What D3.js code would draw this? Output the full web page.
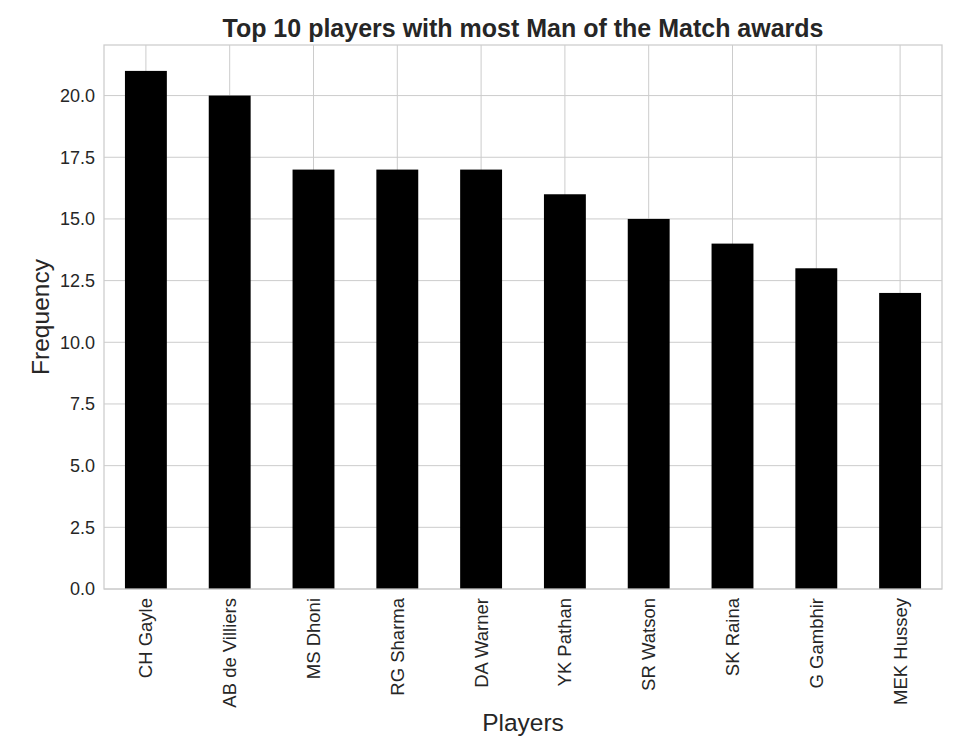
<!DOCTYPE html>
<html>
<head>
<meta charset="utf-8">
<script src="https://cdn.jsdelivr.net/npm/d3@7"></script>
<style>
  body { margin: 0; background: #fff; }
  text { font-family: "Liberation Sans", Arial, sans-serif; fill: #262626; }
</style>
</head>
<body>
<div id="chart"></div>
<script>
const players = ["CH Gayle", "AB de Villiers", "MS Dhoni", "RG Sharma", "DA Warner",
                 "YK Pathan", "SR Watson", "SK Raina", "G Gambhir", "MEK Hussey"];
const awards = [21, 20, 17, 17, 17, 16, 15, 14, 13, 12];
const yTicks = [0, 2.5, 5, 7.5, 10, 12.5, 15, 17.5, 20];

// plot box
var margin = {top: 45, right: 15, bottom: 163, left: 104},
    width = 957 - margin.left - margin.right,
    height = 752 - margin.top - margin.bottom;

var svg = d3.select("#chart").append("svg")
    .attr("width", 957)
    .attr("height", 752);

var g = svg.append("g")
    .attr("transform", "translate(" + margin.left + "," + margin.top + ")");

var x = d3.scaleBand().domain(players).range([0, width]).paddingInner(0.5).paddingOuter(0.25);
var y = d3.scaleLinear().domain([0, d3.max(awards) * 1.05]).range([height, 0]);

// grid
g.selectAll(".hgrid").data(yTicks).enter().append("line")
    .attr("x1", 0).attr("x2", width)
    .attr("y1", d => y(d)).attr("y2", d => y(d))
    .attr("stroke", "#cccccc").attr("stroke-width", 1);

g.selectAll(".vgrid").data(players).enter().append("line")
    .attr("x1", d => x(d) + x.bandwidth() / 2).attr("x2", d => x(d) + x.bandwidth() / 2)
    .attr("y1", 0).attr("y2", height)
    .attr("stroke", "#cccccc").attr("stroke-width", 1);

// bars
g.selectAll(".bar").data(awards).enter().append("rect")
    .attr("x", (d, i) => x(players[i]))
    .attr("width", x.bandwidth())
    .attr("y", d => y(d))
    .attr("height", d => height - y(d))
    .attr("fill", "#000");

// frame
g.append("rect")
    .attr("width", width).attr("height", height)
    .attr("fill", "none").attr("stroke", "#cccccc").attr("stroke-width", 1.25);

// y axis
var yAxis = g.append("g")
    .call(d3.axisLeft(y).tickValues(yTicks).tickFormat(d3.format(".1f")).tickSize(0).tickPadding(9));
yAxis.select(".domain").remove();
yAxis.selectAll("text").attr("font-size", "18px").style("fill", "#262626")
    .style("font-family", "Liberation Sans, Arial, sans-serif");

// x axis
var xAxis = g.append("g")
    .attr("transform", "translate(0," + height + ")")
    .call(d3.axisBottom(x).tickSize(0).tickPadding(0));
xAxis.select(".domain").remove();
xAxis.selectAll("text")
    .attr("font-size", "18.5px").style("fill", "#262626")
    .style("font-family", "Liberation Sans, Arial, sans-serif")
    .attr("text-anchor", "end")
    .attr("dy", "0.35em")
    .attr("transform", "translate(0,9) rotate(-90)")
    .attr("x", 0).attr("y", 0);

// title + labels
svg.append("text")
    .attr("x", margin.left + width / 2).attr("y", 37)
    .attr("text-anchor", "middle")
    .attr("font-size", "25px").attr("font-weight", "bold")
    .text("Top 10 players with most Man of the Match awards");

svg.append("text")
    .attr("x", margin.left + width / 2).attr("y", 731)
    .attr("text-anchor", "middle")
    .attr("font-size", "24.5px")
    .text("Players");

svg.append("text")
    .attr("transform", "translate(49," + (margin.top + height / 2) + ") rotate(-90)")
    .attr("text-anchor", "middle")
    .attr("font-size", "24.5px")
    .text("Frequency");
</script>
</body>
</html>
